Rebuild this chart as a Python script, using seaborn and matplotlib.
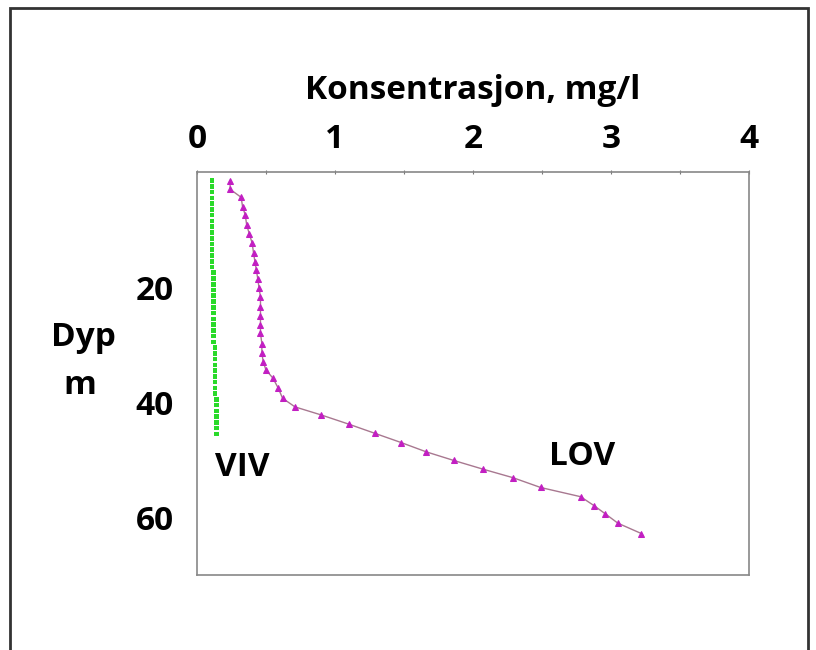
import pandas as pd
import matplotlib
matplotlib.use("Agg")
import matplotlib.pyplot as plt
import seaborn as sns
from matplotlib.patches import Rectangle
from matplotlib.ticker import MultipleLocator

# LOV profile (magenta triangles)
lov_depth = [1.5, 3.0, 4.4, 6.0, 7.5, 9.2, 10.8, 12.4, 14.1, 15.6, 17.0, 18.5,
             20.2, 21.7, 23.4, 25.0, 26.6, 28.0, 29.8, 31.4, 33.0, 34.4, 35.8,
             37.6, 39.3, 40.8, 42.2, 43.8, 45.4, 47.0, 48.6, 50.1, 51.6, 53.1,
             54.8, 56.4, 58.0, 59.4, 61.0, 62.8]
lov_conc = [0.24, 0.24, 0.32, 0.33, 0.35, 0.36, 0.38, 0.40, 0.41, 0.42, 0.43, 0.44,
            0.45, 0.46, 0.46, 0.46, 0.46, 0.46, 0.47, 0.47, 0.48, 0.50, 0.55,
            0.59, 0.62, 0.71, 0.90, 1.10, 1.29, 1.48, 1.66, 1.86, 2.07, 2.29,
            2.49, 2.78, 2.88, 2.96, 3.05, 3.22]

# VIV profile (green squares)
viv_depth = [1.5, 2.5, 3.5, 4.5, 5.5, 6.5, 7.5, 8.5, 9.5, 10.5, 11.5, 12.5,
             13.5, 14.5, 15.5, 16.5, 17.5, 18.5, 19.5, 20.5, 21.5, 22.5, 23.5,
             24.5, 25.5, 26.5, 27.5, 28.5, 29.5, 30.5, 31.5, 32.5, 33.5, 34.5,
             35.5, 36.5, 37.5, 38.5, 39.5, 40.5, 41.5, 42.5, 43.5, 44.5, 45.5]
viv_conc = [0.11, 0.11, 0.11, 0.11, 0.11, 0.11, 0.11, 0.11, 0.11, 0.11, 0.11, 0.11,
            0.11, 0.11, 0.11, 0.11, 0.12, 0.12, 0.12, 0.12, 0.12, 0.12, 0.12,
            0.12, 0.12, 0.12, 0.12, 0.12, 0.12, 0.13, 0.13, 0.13, 0.13, 0.13,
            0.13, 0.13, 0.13, 0.13, 0.14, 0.14, 0.14, 0.14, 0.14, 0.14, 0.14]

x_ticklabels = ["0", "1", "2", "3", "4"]
y_ticklabels = ["20", "40", "60"]

lov = pd.DataFrame({"Konsentrasjon": lov_conc, "Dyp": lov_depth})
viv = pd.DataFrame({"Konsentrasjon": viv_conc, "Dyp": viv_depth})

sns.set_style("white")
plt.rcParams["font.family"] = ["Open Sans", "DejaVu Sans"]
plt.rcParams["text.color"] = "black"

FS = 24

fig = plt.figure(figsize=(8.16, 6.5), dpi=100)
ax = fig.add_axes([197 / 816, 1 - 575 / 650, (749 - 197) / 816, (575 - 172) / 650])

sns.lineplot(data=lov, x="Konsentrasjon", y="Dyp", sort=False, estimator=None, ax=ax,
             color="#a87890", linewidth=1.0, marker="^", markersize=5,
             markerfacecolor="#c21fc2", markeredgecolor="#c21fc2")
sns.scatterplot(data=viv, x="Konsentrasjon", y="Dyp", ax=ax, marker="s",
                s=11, color="#2ada2a", edgecolor="none")

ax.set_xlim(0, 4)
ax.set_ylim(70, 0)
ax.xaxis.tick_top()
ax.xaxis.set_label_position("top")
ax.xaxis.set_major_locator(MultipleLocator(0.5))
ax.set_xticklabels([x_ticklabels[int(t)] if t == int(t) else "" for t in ax.get_xticks()])
ax.yaxis.set_major_locator(MultipleLocator(5))
ax.set_yticklabels([str(int(t)) if str(int(t)) in y_ticklabels else "" for t in ax.get_yticks()])

ax.set_xlabel("Konsentrasjon, mg/l", fontsize=FS, fontweight="bold", labelpad=17,
              color="black")
ax.set_ylabel("")
ax.tick_params(axis="both", labelsize=FS, width=0.8, length=3, direction="inout",
               colors="#777777", labelcolor="black", pad=10)
ax.tick_params(axis="y", pad=15)
for lbl in ax.get_xticklabels() + ax.get_yticklabels():
    lbl.set_fontweight("bold")
for sp in ax.spines.values():
    sp.set_color("#888888")
    sp.set_linewidth(1.2)

ax.text(0.33, 51.4, "VIV", fontsize=FS, fontweight="bold", ha="center", va="center")
ax.text(2.79, 49.5, "LOV", fontsize=FS, fontweight="bold", ha="center", va="center")
fig.text(83 / 816, 1 - 338 / 650, "Dyp", fontsize=FS, fontweight="bold", ha="center", va="center")
fig.text(80 / 816, 1 - 385 / 650, "m", fontsize=FS, fontweight="bold", ha="center", va="center")

fig.patches.append(Rectangle((10 / 816, -0.05), (808 - 10) / 816, 1.05 - 8 / 650,
                             transform=fig.transFigure, fill=False,
                             edgecolor="#333333", linewidth=2))

fig.savefig("out.png", dpi=100)
